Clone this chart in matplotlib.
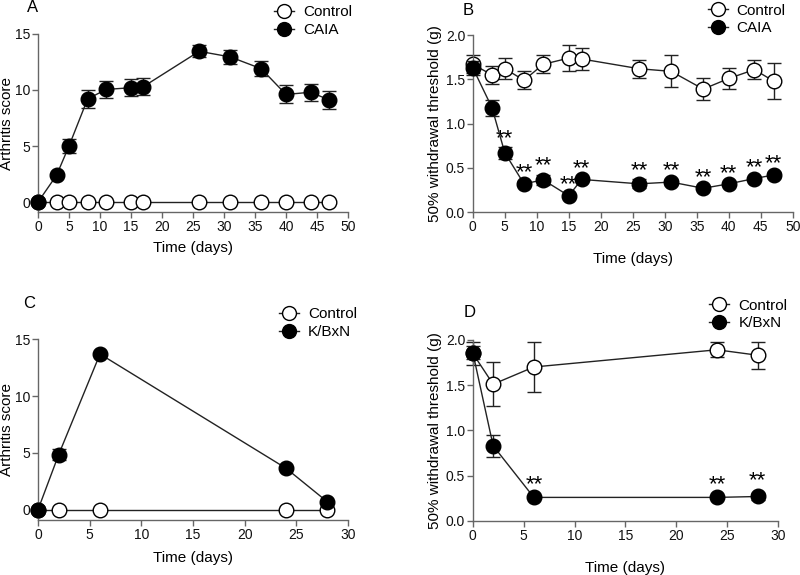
import matplotlib
matplotlib.use("Agg")
import matplotlib.pyplot as plt
from matplotlib.lines import Line2D

plt.rcParams['font.family'] = ['Liberation Sans', 'DejaVu Sans']

# Panel A - CAIA arthritis score
days_a = [0, 3, 5, 8, 11, 15, 17, 26, 31, 36, 40, 44, 47]
caia_score = [0, 2.4, 5.0, 9.2, 10.05, 10.2, 10.3, 13.45, 12.95, 11.9, 9.6, 9.8, 9.1]
caia_score_err = [0, 0.2, 0.65, 0.8, 0.75, 0.75, 0.75, 0.55, 0.6, 0.65, 0.8, 0.75, 0.8]
ctrl_score_a = [0] * 13

# Panel B - CAIA withdrawal threshold
ctrl_thr_b = [1.67, 1.55, 1.62, 1.49, 1.67, 1.74, 1.73, 1.62, 1.59, 1.39, 1.51, 1.61, 1.48]
ctrl_thr_b_err = [0.1, 0.1, 0.12, 0.1, 0.1, 0.15, 0.12, 0.1, 0.18, 0.12, 0.12, 0.11, 0.2]
caia_thr = [1.63, 1.18, 0.67, 0.32, 0.365, 0.185, 0.37, 0.32, 0.34, 0.27, 0.32, 0.38, 0.42]
caia_thr_err = [0.08, 0.09, 0.065, 0.03, 0.055, 0.02, 0.02, 0.05, 0.03, 0.02, 0.02, 0.02, 0.03]
stars_b = [False, False, True, True, True, True, True, True, True, True, True, True, True]

# Panel C - K/BxN arthritis score
days_c = [0, 2, 6, 24, 28]
kbxn_score = [0, 4.85, 13.7, 3.65, 0.7]
kbxn_score_err = [0, 0.5, 0.2, 0.15, 0.1]
ctrl_score_c = [0] * 5

# Panel D - K/BxN withdrawal threshold
ctrl_thr_d = [1.85, 1.51, 1.70, 1.89, 1.83]
ctrl_thr_d_err = [0.13, 0.24, 0.28, 0.085, 0.15]
kbxn_thr = [1.86, 0.83, 0.26, 0.26, 0.27]
kbxn_thr_err = [0.07, 0.12, 0.01, 0.01, 0.04]
stars_d = [False, False, True, True, True]

fig = plt.figure(figsize=(8, 5.75), dpi=100)

def style_axes(ax):
    for s in ['top', 'right']:
        ax.spines[s].set_visible(False)
    for s in ['left', 'bottom']:
        ax.spines[s].set_linewidth(1.0)
        ax.spines[s].set_color('#666666')
    ax.tick_params(direction='out', length=4, width=1, pad=1.5, labelsize=10,
                   color='#666666', labelcolor='#111111')

def draw_series(ax, x, y, err, filled):
    ax.errorbar(x, y, yerr=err, color='#222222', lw=1, elinewidth=1, capsize=5, capthick=1,
                marker='o', ms=10.5, mfc='black' if filled else 'white', mec='black', mew=1,
                clip_on=False, zorder=3 if filled else 2)

def add_legend(label2, anchor):
    h = [Line2D([], [], color='#222222', lw=1, marker='o', ms=10, mfc='white', mec='black'),
         Line2D([], [], color='#222222', lw=1, marker='o', ms=10, mfc='black', mec='black')]
    fig.legend(h, ['Control', label2], loc='upper left', bbox_to_anchor=anchor, frameon=False,
               fontsize=11, handlelength=1.3, handletextpad=0.6, labelspacing=0.25, borderpad=0)

# A
axA = fig.add_axes([0.0475, 0.631, 0.3875, 0.31])
draw_series(axA, days_a, ctrl_score_a, None, False)
draw_series(axA, days_a, caia_score, caia_score_err, True)
axA.set_xlim(0, 50)
axA.set_ylim(-0.9, 15)
axA.set_xticks(range(0, 51, 5))
axA.set_yticks([0, 5, 10, 15])
axA.set_xlabel('Time (days)', fontsize=11, labelpad=5.5)
axA.set_ylabel('Arthritis score', fontsize=11, labelpad=1)
style_axes(axA)
add_legend('CAIA', (0.333, 1.004))
fig.text(0.034, 1.0, 'A', fontsize=12, va='top')

# B
axB = fig.add_axes([0.591, 0.631, 0.4, 0.308])
draw_series(axB, days_a, ctrl_thr_b, ctrl_thr_b_err, False)
draw_series(axB, days_a, caia_thr, caia_thr_err, True)
for x, y, e, s in zip(days_a, caia_thr, caia_thr_err, stars_b):
    if s:
        axB.text(x, y + e + 0.1, '**', ha='center', va='center', fontsize=16)
axB.set_xlim(0, 50)
axB.set_ylim(0, 2.0)
axB.set_xticks(range(0, 51, 5))
axB.set_yticks([0, 0.5, 1.0, 1.5, 2.0])
axB.set_yticklabels(['0.0', '0.5', '1.0', '1.5', '2.0'])
axB.set_xlabel('Time (days)', fontsize=11, labelpad=13)
axB.set_ylabel('50% withdrawal threshold (g)', fontsize=11, labelpad=3)
style_axes(axB)
add_legend('CAIA', (0.875, 1.007))
fig.text(0.578, 0.995, 'B', fontsize=12, va='top')

# C
axC = fig.add_axes([0.0475, 0.0957, 0.3875, 0.3143])
draw_series(axC, days_c, ctrl_score_c, None, False)
draw_series(axC, days_c, kbxn_score, kbxn_score_err, True)
axC.set_xlim(0, 30)
axC.set_ylim(-0.9, 15)
axC.set_xticks(range(0, 31, 5))
axC.set_yticks([0, 5, 10, 15])
axC.set_xlabel('Time (days)', fontsize=11, labelpad=6.5)
axC.set_ylabel('Arthritis score', fontsize=11, labelpad=1)
style_axes(axC)
add_legend('K/BxN', (0.339, 0.479))
fig.text(0.029, 0.485, 'C', fontsize=12, va='top')

# D
axD = fig.add_axes([0.591, 0.094, 0.3815, 0.315])
draw_series(axD, days_c, ctrl_thr_d, ctrl_thr_d_err, False)
draw_series(axD, days_c, kbxn_thr, kbxn_thr_err, True)
for x, y, e, s in zip(days_c, kbxn_thr, kbxn_thr_err, stars_d):
    if s:
        axD.text(x, y + e + 0.13, '**', ha='center', va='center', fontsize=16)
axD.set_xlim(0, 30)
axD.set_ylim(0, 2.0)
axD.set_xticks(range(0, 31, 5))
axD.set_yticks([0, 0.5, 1.0, 1.5, 2.0])
axD.set_yticklabels(['0.0', '0.5', '1.0', '1.5', '2.0'])
axD.set_xlabel('Time (days)', fontsize=11, labelpad=13)
axD.set_ylabel('50% withdrawal threshold (g)', fontsize=11, labelpad=3)
style_axes(axD)
add_legend('K/BxN', (0.877, 0.494))
fig.text(0.579, 0.47, 'D', fontsize=12, va='top')

fig.savefig('out.png', dpi=100)
